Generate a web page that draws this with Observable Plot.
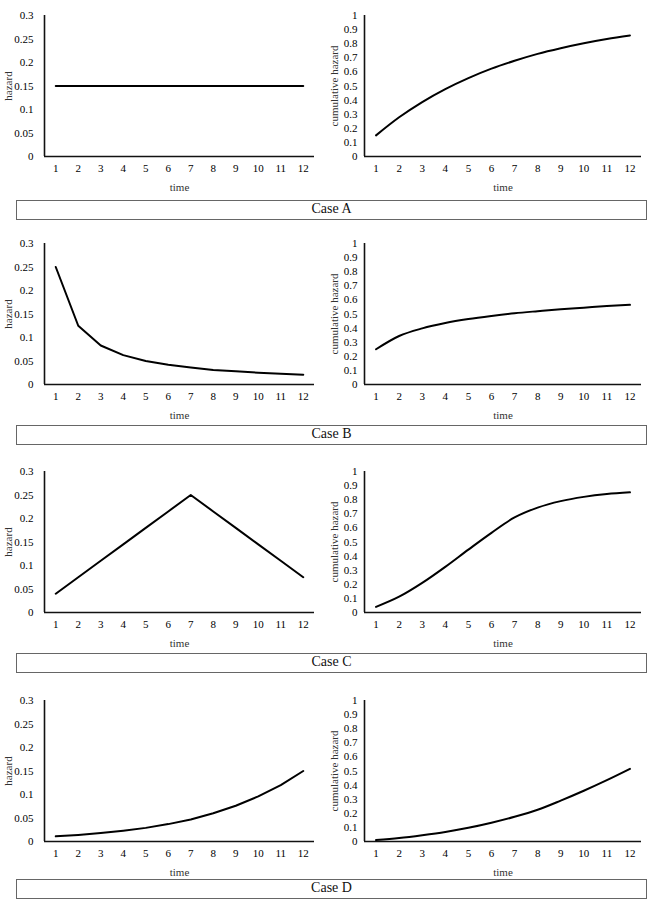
<!DOCTYPE html>
<html>
<head>
<meta charset="utf-8">
<script src="https://cdn.jsdelivr.net/npm/d3@7"></script>
<script src="https://cdn.jsdelivr.net/npm/@observablehq/plot@0.6"></script>
<style>
  html, body { margin: 0; padding: 0; background: #fff; }
  #root { position: relative; width: 654px; height: 912px; font-family: "Liberation Serif", "Times New Roman", serif; }
  #root svg { position: absolute; overflow: visible; }
  #root svg text { font-family: "Liberation Serif", "Times New Roman", serif !important; }
  .casebox { position: absolute; box-sizing: border-box; border: 1.5px solid #666; text-align: center;
             font-family: "Liberation Serif", "Times New Roman", serif; font-size: 14px; color: #111; line-height: 16px; }
</style>
</head>
<body>
<div id="root"></div>
<script>
// ---- data ----
const times = [1, 2, 3, 4, 5, 6, 7, 8, 9, 10, 11, 12];
const caseNames = ["Case A", "Case B", "Case C", "Case D"];

const hazardA = [0.15, 0.15, 0.15, 0.15, 0.15, 0.15, 0.15, 0.15, 0.15, 0.15, 0.15, 0.15];
const cumA    = [0.15, 0.278, 0.386, 0.478, 0.556, 0.623, 0.679, 0.728, 0.768, 0.803, 0.833, 0.858];

const hazardB = [0.25, 0.125, 0.083, 0.0625, 0.05, 0.042, 0.036, 0.031, 0.028, 0.025, 0.023, 0.021];
const cumB    = [0.25, 0.344, 0.398, 0.436, 0.464, 0.486, 0.505, 0.52, 0.534, 0.545, 0.556, 0.565];

const hazardC = [0.04, 0.075, 0.11, 0.145, 0.18, 0.215, 0.25, 0.215, 0.18, 0.145, 0.11, 0.075];
const cumC    = [0.04, 0.112, 0.21, 0.324, 0.446, 0.565, 0.674, 0.744, 0.79, 0.82, 0.84, 0.852];

const hazardD = [0.011, 0.014, 0.018, 0.023, 0.029, 0.037, 0.047, 0.06, 0.076, 0.096, 0.12, 0.15];
const cumD    = [0.01, 0.025, 0.045, 0.068, 0.097, 0.133, 0.175, 0.225, 0.29, 0.36, 0.435, 0.515];

const hazardTicks = [0, 0.05, 0.1, 0.15, 0.2, 0.25, 0.3];
const cumTicks = [0, 0.1, 0.2, 0.3, 0.4, 0.5, 0.6, 0.7, 0.8, 0.9, 1];

const hazardSeries = [hazardA, hazardB, hazardC, hazardD];
const cumSeries = [cumA, cumB, cumC, cumD];

// ---- layout ----
const rowTops = [0, 228, 456, 685];
const boxTops = [200, 425, 653, 879];
const root = document.getElementById("root");
const serif = "'Liberation Serif', 'Times New Roman', serif";

function chart(values, opts) {
  const data = times.map((t, i) => ({t, v: values[i]}));
  return Plot.plot({
    width: opts.width,
    height: 196,
    marginTop: 15,
    marginBottom: 40,
    marginLeft: 44,
    marginRight: opts.marginRight,
    style: {fontFamily: serif, fontSize: "11px", color: "#000", background: "transparent"},
    x: {domain: [0.5, 12.5]},
    y: {domain: opts.domain},
    marks: [
      Plot.axisX({ticks: times, tickSize: 0, tickPadding: 8, tickFormat: d => String(d),
                  label: "time", labelAnchor: "center", labelOffset: 34, labelArrow: "none",
                  fontSize: 11}),
      Plot.axisY({ticks: opts.ticks, tickSize: 0, tickPadding: opts.tickPadding, tickFormat: d => String(d),
                  label: opts.label, labelAnchor: "center", labelOffset: opts.labelOffset, labelArrow: "none",
                  fontSize: 11}),
      Plot.ruleX([0.5], {stroke: "#111", strokeWidth: 1.6}),
      Plot.ruleY([0], {stroke: "#111", strokeWidth: 1.6}),
      Plot.line(data, {x: "t", y: "v", stroke: "#000", strokeWidth: 2, curve: opts.curve})
    ]
  });
}

for (let r = 0; r < 4; r++) {
  const left = chart(hazardSeries[r], {width: 320, marginRight: 6, domain: [0, 0.3], ticks: hazardTicks,
    tickPadding: 11, label: "hazard", labelOffset: 40, curve: "linear"});
  left.style.left = "0px";
  left.style.top = rowTops[r] + "px";
  root.appendChild(left);

  const right = chart(cumSeries[r], {width: 334, marginRight: 13, domain: [0, 1], ticks: cumTicks,
    tickPadding: 7, label: "cumulative hazard", labelOffset: 34, curve: "monotone-x"});
  right.style.left = "320px";
  right.style.top = rowTops[r] + "px";
  root.appendChild(right);

  const box = document.createElement("div");
  box.className = "casebox";
  box.style.left = "16px";
  box.style.top = boxTops[r] + "px";
  box.style.width = "631px";
  box.style.height = "20px";
  box.textContent = caseNames[r];
  root.appendChild(box);
}

// force serif on every text, titles slightly lighter
root.querySelectorAll("svg text").forEach(t => {
  t.style.fontFamily = serif;
  t.setAttribute("font-family", serif);
});
root.querySelectorAll("g[aria-label='x-axis label'] text, g[aria-label='y-axis label'] text").forEach(t => {
  t.setAttribute("fill", "#333");
  t.style.fontSize = "11px";
});
</script>
</body>
</html>
